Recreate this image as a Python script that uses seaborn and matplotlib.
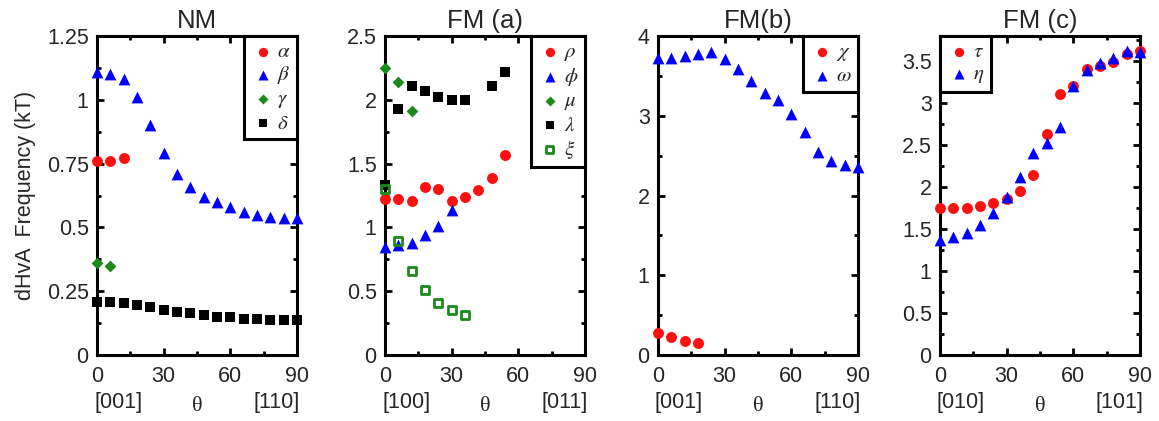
import matplotlib
matplotlib.use("Agg")
import matplotlib.pyplot as plt
import seaborn as sns
import numpy as np
from matplotlib.ticker import MultipleLocator, FuncFormatter

sns.set_style("ticks")
plt.rcParams["font.family"] = ["Liberation Sans", "DejaVu Sans"]
plt.rcParams["mathtext.fontset"] = "stix"

# ---------------- data ----------------
theta = [0, 6, 12, 18, 24, 30, 36, 42, 48, 54, 60, 66, 72, 78, 84, 90]

# NM
nm_alpha = [0.76, 0.76, 0.77]
nm_beta = [1.11, 1.10, 1.08, 1.01, 0.90, 0.79, 0.71, 0.66, 0.62, 0.60,
           0.58, 0.56, 0.55, 0.54, 0.535, 0.535]
nm_gamma = [0.36, 0.35]
nm_delta = [0.208, 0.206, 0.202, 0.195, 0.189, 0.178, 0.169, 0.163, 0.156,
            0.150, 0.147, 0.143, 0.141, 0.139, 0.137, 0.137]

# FM (a)
fa_rho = [1.22, 1.22, 1.21, 1.32, 1.30, 1.21, 1.235, 1.295, 1.39, 1.57]
fa_phi = [0.85, 0.86, 0.88, 0.94, 1.01, 1.14]
fa_mu = [2.25, 2.14, 1.91]
fa_lambda_theta = [0, 6, 12, 18, 24, 30, 36, 48, 54]
fa_lambda = [1.33, 1.93, 2.11, 2.07, 2.02, 2.00, 2.00, 2.11, 2.22]
fa_xi = [1.30, 0.89, 0.655, 0.51, 0.41, 0.35, 0.31]

# FM (b)
fb_chi = [0.27, 0.22, 0.18, 0.15]
fb_omega = [3.72, 3.73, 3.75, 3.78, 3.80, 3.71, 3.58, 3.43, 3.29, 3.20,
            3.02, 2.80, 2.55, 2.43, 2.38, 2.36]

# FM (c)
fc_tau = [1.75, 1.75, 1.75, 1.77, 1.81, 1.86, 1.95, 2.15, 2.63, 3.11,
          3.21, 3.41, 3.44, 3.49, 3.59, 3.62]
fc_eta = [1.37, 1.40, 1.45, 1.55, 1.69, 1.88, 2.12, 2.41, 2.53, 2.72,
          3.21, 3.40, 3.48, 3.54, 3.62, 3.61]

titles = ["NM", "FM (a)", "FM(b)", "FM (c)"]
xdirs = [("[001]", "[110]"), ("[100]", "[011]"), ("[001]", "[110]"), ("[010]", "[101]")]
ylims = [(0, 1.25), (0, 2.5), (0, 4.0), (0, 3.8)]
ymajor = [0.25, 0.5, 1.0, 0.5]

RED = "#ff1010"
BLUE = "#0000ff"
GREEN = "#1a8a1a"
BLACK = "#000000"

W, H = 1159, 421
fig = plt.figure(figsize=(W / 100, H / 100), dpi=100)
lefts = [97, 385, 658, 940]
top_px, bot_px = 36, 355
axes = []
for l in lefts:
    axes.append(fig.add_axes([l / W, (H - bot_px) / H, 200 / W, (bot_px - top_px) / H]))


def pts(ax, x, y, marker, color, s, label, **kw):
    kws = dict(marker=marker, color=color, s=s, linewidth=0, edgecolor=color,
               label=label, clip_on=False, zorder=5)
    kws.update(kw)
    sns.scatterplot(x=x, y=y, ax=ax, **kws)


S_O, S_T, S_S, S_D = 62, 72, 50, 36

# NM
ax = axes[0]
pts(ax, theta[:3], nm_alpha, "o", RED, S_O, r"$\alpha$")
pts(ax, theta, nm_beta, "^", BLUE, S_T, r"$\beta$")
pts(ax, theta[:2], nm_gamma, "D", GREEN, S_D, r"$\gamma$")
pts(ax, theta, nm_delta, "s", BLACK, S_S, r"$\delta$")

# FM (a)
ax = axes[1]
pts(ax, theta[:10], fa_rho, "o", RED, S_O, r"$\rho$")
pts(ax, theta[:6], fa_phi, "^", BLUE, S_T, r"$\phi$")
pts(ax, theta[:3], fa_mu, "D", GREEN, S_D, r"$\mu$")
pts(ax, fa_lambda_theta, fa_lambda, "s", BLACK, S_S, r"$\lambda$")
pts(ax, theta[:7], fa_xi, "s", GREEN, 34, r"$\xi$", facecolor="none", linewidth=2.0)

# FM (b)
ax = axes[2]
pts(ax, theta[:4], fb_chi, "o", RED, S_O, r"$\chi$")
pts(ax, theta, fb_omega, "^", BLUE, S_T, r"$\omega$")

# FM (c)
ax = axes[3]
pts(ax, theta, fc_tau, "o", RED, S_O, r"$\tau$")
pts(ax, theta, fc_eta, "^", BLUE, S_T, r"$\eta$")

fmt = FuncFormatter(lambda v, p: f"{v:g}")
for i, ax in enumerate(axes):
    ax.set_xlim(0, 90)
    ax.set_ylim(*ylims[i])
    ax.xaxis.set_major_locator(MultipleLocator(30))
    ax.xaxis.set_minor_locator(MultipleLocator(15))
    ax.yaxis.set_major_locator(MultipleLocator(ymajor[i]))
    ax.yaxis.set_minor_locator(MultipleLocator(ymajor[i] / 2))
    ax.yaxis.set_major_formatter(fmt)
    ax.xaxis.set_major_formatter(fmt)
    for sp in ax.spines.values():
        sp.set_visible(True)
        sp.set_linewidth(2.2)
        sp.set_color("black")
        sp.set_zorder(3)
    ax.tick_params(which="both", direction="in", top=True, right=True,
                   width=2.0, color="black")
    ax.tick_params(which="major", length=5, labelsize=15.5, pad=6)
    ax.tick_params(which="minor", length=3)
    ax.tick_params(axis="x", which="major", pad=8)
    ax.set_xlabel("")
    ax.set_ylabel("")
    ax.set_title(titles[i], fontsize=18.5, pad=6)
    ax.text(-0.015, -0.148, xdirs[i][0], transform=ax.transAxes, ha="left",
            va="center", fontsize=15.5)
    ax.text(1.015, -0.148, xdirs[i][1], transform=ax.transAxes, ha="right",
            va="center", fontsize=15.5)
    ax.text(0.5, -0.163, "θ", transform=ax.transAxes, ha="center",
            va="center", fontsize=16, family=["Liberation Serif", "DejaVu Serif"])
    loc = "upper left" if i == 3 else "upper right"
    leg = ax.legend(loc=loc, borderaxespad=0, fancybox=False, framealpha=1,
                    edgecolor="black", fontsize=15, handletextpad=0.1,
                    handlelength=1.2, labelspacing=0.15, borderpad=0.3,
                    markerscale=0.85)
    leg.get_frame().set_linewidth(2.2)
    leg.set_zorder(10)

axes[0].set_ylabel("dHvA  Frequency (kT)", fontsize=15.5, labelpad=8)

fig.savefig("out.png", dpi=100)
